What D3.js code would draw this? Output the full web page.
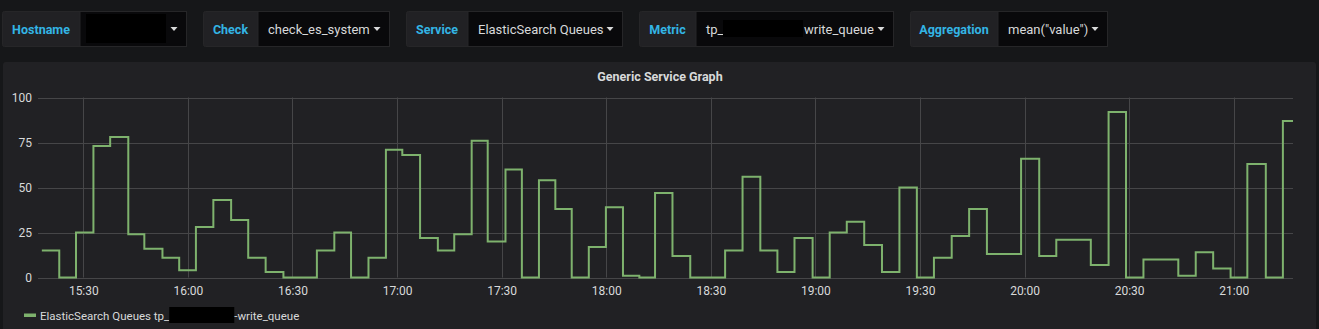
<!DOCTYPE html>
<html>
<head>
<meta charset="utf-8">
<script src="https://cdn.jsdelivr.net/npm/d3@7"></script>
<style>
  html, body { margin: 0; padding: 0; background: #161719; }
  svg { display: block; font-family: Roboto, "Noto Sans", sans-serif; }
</style>
</head>
<body>
<svg id="chart" width="1319" height="329"></svg>
<script>
// query bar
let filterLabels = ['Hostname', 'Check', 'Service', 'Metric', 'Aggregation'];
let filterValues = ['', 'check_es_system', 'ElasticSearch Queues', 'tp_', 'mean("value")'];
let metricSuffix = 'write_queue';

// series (sample time, value)
let sampleTimes = [
  '15:18:06', '15:23:06', '15:27:54', '15:32:54', '15:37:42', '15:42:54', '15:47:30', '15:52:42',
  '15:57:30', '16:02:18', '16:07:18', '16:12:24', '16:17:18', '16:22:18', '16:27:24', '16:32:12',
  '16:37:00', '16:42:00', '16:46:48', '16:51:48', '16:56:48', '17:01:30', '17:06:36', '17:11:42',
  '17:16:24', '17:21:24', '17:26:00', '17:31:06', '17:35:48', '17:40:42', '17:45:24', '17:50:06',
  '17:55:00', '17:59:54', '18:04:48', '18:09:30', '18:14:00', '18:19:00', '18:24:06', '18:29:06',
  '18:34:06', '18:39:06', '18:44:12', '18:49:06', '18:54:00', '18:59:12', '19:04:06', '19:09:00',
  '19:14:00', '19:19:06', '19:24:06', '19:29:06', '19:34:00', '19:39:06', '19:44:06', '19:49:12',
  '19:54:06', '19:59:00', '20:04:12', '20:09:06', '20:14:00', '20:19:00', '20:24:06', '20:29:06',
  '20:34:06', '20:39:06', '20:44:06', '20:49:06', '20:54:06', '20:59:06', '21:03:54', '21:09:12',
  '21:14:06', '21:17:00'
];
let queueValues = [
  15, 0, 25, 73, 78, 24, 16, 11,
  4, 28, 43, 32, 11, 3, 0, 0,
  15, 25, 0, 11, 71, 68, 22, 15,
  24, 76, 20, 60, 0, 54, 38, 0,
  17, 39, 1, 0, 47, 12, 0, 0,
  15, 56, 15, 3, 22, 0, 25, 31,
  18, 3, 50, 0, 11, 23, 38, 13,
  13, 66, 12, 21, 21, 7, 92, 0,
  10, 10, 1, 14, 5, 0, 63, 0,
  87, 87
];
let yTicks = [0, 25, 50, 75, 100];
let timeRange = ['15:17:00', '21:17:00'];
let panelTitle = 'Generic Service Graph';
let legendPrefix = 'ElasticSearch Queues tp_';
let legendSuffix = '-write_queue';

let parseTime = d3.timeParse('%H:%M:%S');
let series = sampleTimes.map(function(t, i) {
  return { t: parseTime(t), v: queueValues[i] };
});

let svg = d3.select('#chart');

// ---- query bar ----
// [label box left, value box left, value box right]
let boxes = [[2, 80, 187], [203, 258, 390], [406, 468, 623], [639, 696, 894], [910, 998, 1108]];

let bar = svg.append('g').attr('class', 'querybar');
filterLabels.forEach(function(lab, i) {
  let b = boxes[i];
  let g = bar.append('g');
  g.append('rect')
    .attr('x', b[0] + 0.5).attr('y', 11.5)
    .attr('width', b[2] - b[0] - 1).attr('height', 35)
    .attr('rx', 2)
    .attr('fill', '#212124')
    .attr('stroke', '#262628');
  g.append('rect')
    .attr('x', b[1]).attr('y', 11.5)
    .attr('width', b[2] - b[1] - 0.5).attr('height', 35)
    .attr('fill', '#09090b')
    .attr('stroke', '#262628');
  g.append('text')
    .attr('x', (b[0] + b[1]) / 2)
    .attr('y', 33.5)
    .attr('text-anchor', 'middle')
    .attr('fill', '#33b5e5')
    .attr('font-size', 12.5)
    .attr('font-weight', 'bold')
    .text(lab);
  if (filterValues[i]) {
    g.append('text')
      .attr('x', b[1] + 10)
      .attr('y', 34)
      .attr('fill', '#d8d9da')
      .attr('font-size', 13)
      .text(filterValues[i]);
  }
  // caret
  let cx = b[2] - 13;
  g.append('path')
    .attr('d', 'M' + (cx - 3.5) + ',27 L' + (cx + 3.5) + ',27 L' + cx + ',31 Z')
    .attr('fill', '#d8d9da');
});

// redacted bits
bar.append('rect').attr('x', 86).attr('y', 14).attr('width', 80).attr('height', 29).attr('fill', '#000');
bar.append('rect').attr('x', 723).attr('y', 20).attr('width', 80).attr('height', 17).attr('fill', '#000');
bar.append('text')
  .attr('x', 804).attr('y', 34)
  .attr('fill', '#d8d9da')
  .attr('font-size', 13)
  .text(metricSuffix);

// ---- panel ----
svg.append('rect')
  .attr('x', 3).attr('y', 62)
  .attr('width', 1313).attr('height', 275)
  .attr('rx', 3)
  .attr('fill', '#212124');

svg.append('text')
  .attr('x', 660).attr('y', 81)
  .attr('text-anchor', 'middle')
  .attr('fill', '#d8d9da')
  .attr('font-size', 12.5)
  .attr('font-weight', 'bold')
  .text(panelTitle);

let x = d3.scaleTime()
  .domain(timeRange.map(parseTime))
  .range([38, 1293]);

let y = d3.scaleLinear()
  .domain([0, 100])
  .range([277.5, 97.5]);

// grid
let grid = svg.append('g').attr('class', 'grid');
grid.selectAll('line.h')
  .data(yTicks)
  .enter().append('line')
    .attr('class', 'h')
    .attr('x1', x.range()[0]).attr('x2', x.range()[1])
    .attr('y1', function(d) { return Math.round(y(d)) + 0.5; })
    .attr('y2', function(d) { return Math.round(y(d)) + 0.5; })
    .attr('stroke', '#464648');

let xTicks = x.ticks(d3.timeMinute.every(30));
grid.selectAll('line.v')
  .data(xTicks)
  .enter().append('line')
    .attr('class', 'v')
    .attr('x1', function(d) { return Math.round(x(d)) + 0.5; })
    .attr('x2', function(d) { return Math.round(x(d)) + 0.5; })
    .attr('y1', y.range()[1]).attr('y2', y.range()[0])
    .attr('stroke', '#464648');

// axes (labels only)
let xAxis = svg.append('g')
  .attr('transform', 'translate(0,' + y.range()[0] + ')')
  .call(d3.axisBottom(x)
    .tickValues(xTicks)
    .tickFormat(d3.timeFormat('%H:%M'))
    .tickSize(0)
    .tickPadding(9));
xAxis.select('.domain').remove();
xAxis.selectAll('text')
  .attr('fill', '#d8d9da')
  .attr('font-size', 12)
  .attr('font-family', 'Roboto, sans-serif');

let yAxis = svg.append('g')
  .attr('transform', 'translate(' + x.range()[0] + ',0)')
  .call(d3.axisLeft(y)
    .tickValues(yTicks)
    .tickSize(0)
    .tickPadding(6));
yAxis.select('.domain').remove();
yAxis.selectAll('text')
  .attr('fill', '#d8d9da')
  .attr('font-size', 12)
  .attr('font-family', 'Roboto, sans-serif');

// series line
let line = d3.line()
  .x(function(d) { return x(d.t); })
  .y(function(d) { return y(d.v); })
  .curve(d3.curveStepAfter);

svg.append('path')
  .datum(series)
  .attr('fill', 'none')
  .attr('stroke', '#7eb26d')
  .attr('stroke-width', 2)
  .attr('d', line);

// legend
let legend = svg.append('g').attr('class', 'legend');
legend.append('rect')
  .attr('x', 24).attr('y', 313.5)
  .attr('width', 12).attr('height', 3.5)
  .attr('fill', '#7eb26d');
let lt = legend.append('text')
  .attr('x', 40).attr('y', 319.5)
  .attr('fill', '#d8d9da')
  .attr('font-size', 11.5)
  .text(legendPrefix);
let lx = 40 + lt.node().getComputedTextLength();
legend.append('rect')
  .attr('x', lx).attr('y', 307).attr('width', 65).attr('height', 16).attr('fill', '#000');
legend.append('text')
  .attr('x', lx + 65).attr('y', 319.5)
  .attr('fill', '#d8d9da')
  .attr('font-size', 11.5)
  .text(legendSuffix);
</script>
</body>
</html>
